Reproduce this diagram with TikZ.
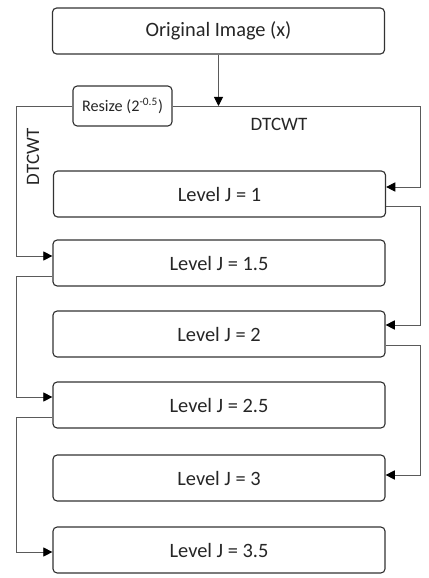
\documentclass[tikz,border=0pt]{standalone}
\usepackage{fontspec}
\setmainfont{Carlito}
\usetikzlibrary{arrows.meta,positioning,calc}
\definecolor{wire}{HTML}{5A5A5A}
\definecolor{boxline}{HTML}{333333}

\begin{document}
\begin{tikzpicture}[x=0.025cm,y=-0.025cm,
  every node/.style={font=\fontsize{14.5}{17}\selectfont,text=black!85},
  lvl/.style={draw=boxline,line width=0.8pt,rounded corners=3pt,minimum width=8.3cm,minimum height=1.15cm},
  rsz/.style={draw=boxline,line width=0.8pt,rounded corners=3pt,minimum width=2.475cm,minimum height=1cm,font=\fontsize{11.5}{14}\selectfont},
  e/.style={-{Triangle[length=6.5pt,width=6.5pt,color=black]},draw=wire,line width=0.7pt},
  lbl/.style={font=\fontsize{13.5}{16}\selectfont}]
 \useasboundingbox (0,0) rectangle (428,578);
 \node[lvl] (orig) at (218.5,31) {Original Image (x)};
 \node[rsz] (resize) at (122.5,106) {Resize (2\textsuperscript{-0.5})};
 \node[lvl] (l1) at (219.5,194) {Level J = 1};
 \node[lvl] (l15) at (219,263) {Level J = 1.5};
 \node[lvl] (l2) at (219,334) {Level J = 2};
 \node[lvl] (l25) at (219,405) {Level J = 2.5};
 \node[lvl] (l3) at (219,478) {Level J = 3};
 \node[lvl] (l35) at (219,550) {Level J = 3.5};
 \node[lbl] (dtr) at (279,124) {DTCWT};
 \node[lbl,rotate=90] (dtl) at (33,157) {DTCWT};
 % bend columns
 \coordinate (lb) at (16,0);
 \coordinate (rb) at (420,0);
 % entry and exit points on the boxes
 \coordinate (i1) at ($(l1.east)+(0,-7)$);
 \coordinate (i2) at ($(l2.east)+(0,-9)$);
 \coordinate (i3) at ($(l3.east)+(0,-3)$);
 \coordinate (i15) at ($(l15.west)+(0,-7)$);
 \coordinate (i25) at ($(l25.west)+(0,-8)$);
 \coordinate (i35) at ($(l35.west)+(0,2)$);
 \coordinate (o1) at ($(l1.east)+(0,12)$);
 \coordinate (o2) at ($(l2.east)+(0,11)$);
 \coordinate (o15) at ($(l15.west)+(0,13)$);
 \coordinate (o25) at ($(l25.west)+(0,12)$);
 \draw[e] (orig) -- (orig |- resize.east);
 \draw[e] (resize.east) -| (rb |- i1) -- (i1);
 \draw[e] (resize.west) -| (lb |- i15) -- (i15);
 \draw[e] (o1) -| (rb |- i2) -- (i2);
 \draw[e] (o2) -| (rb |- i3) -- (i3);
 \draw[e] (o15) -| (lb |- i25) -- (i25);
 \draw[e] (o25) -| (lb |- i35) -- (i35);
\end{tikzpicture}
\end{document}
